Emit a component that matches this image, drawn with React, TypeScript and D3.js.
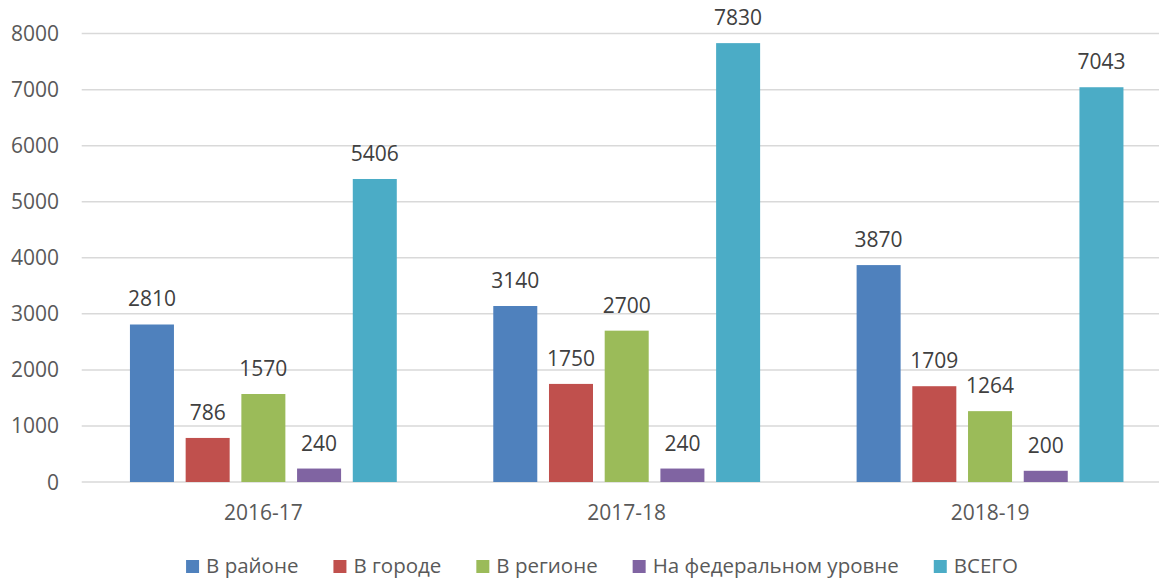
import React, { useEffect, useRef } from 'react';
import * as d3 from 'd3';

const years = ['2016-17', '2017-18', '2018-19'];
const seriesNames = ['В районе', 'В городе', 'В регионе', 'На федеральном уровне', 'ВСЕГО'];
const seriesColors = ['#4F81BD', '#C0504D', '#9BBB59', '#8064A2', '#4BACC6'];
const rayon = [2810, 3140, 3870];
const gorod = [786, 1750, 1709];
const region = [1570, 2700, 1264];
const federal = [240, 240, 200];
const total = [5406, 7830, 7043];
const yTicks = [0, 1000, 2000, 3000, 4000, 5000, 6000, 7000, 8000];

const WIDTH = 1159;
const HEIGHT = 579;
const FONT = '"Open Sans", sans-serif';

const App: React.FC = () => {
    const svgRef = useRef<SVGSVGElement>(null);

    useEffect(() => {
        document.body.style.margin = '0';
        if (!svgRef.current) return;

        const svg = d3.select(svgRef.current);
        svg.selectAll('*').remove();

        const values = [rayon, gorod, region, federal, total];

        // plot area (right edge runs past the picture, like the source)
        const left = 81.7;
        const right = 1171.7;
        const y = d3.scaleLinear().domain([0, 8000]).range([482, 33.6]);

        const x0 = d3.scaleBand<string>()
            .domain(years)
            .range([left, right])
            .padding(0);

        const x1 = d3.scaleBand<number>()
            .domain(d3.range(seriesNames.length))
            .range([0, x0.bandwidth()])
            .paddingInner(0.21)
            .paddingOuter(0.866);

        // gridlines
        svg.append('g')
            .selectAll('line')
            .data(yTicks)
            .join('line')
            .attr('x1', left)
            .attr('x2', WIDTH)
            .attr('y1', d => y(d))
            .attr('y2', d => y(d))
            .attr('stroke', '#D9D9D9')
            .attr('stroke-width', 1.5);

        // y labels
        svg.append('g')
            .selectAll('text')
            .data(yTicks)
            .join('text')
            .attr('x', 59)
            .attr('y', d => y(d) + 7.5)
            .attr('text-anchor', 'end')
            .style('font-family', FONT)
            .style('font-size', '21px')
            .style('fill', '#595959')
            .text(d => d);

        // bars + labels
        years.forEach((yr, gi) => {
            const g = svg.append('g').attr('transform', `translate(${x0(yr)},0)`);
            values.forEach((vals, si) => {
                const v = vals[gi];
                const bx = x1(si) as number;
                g.append('rect')
                    .attr('x', bx)
                    .attr('y', y(v))
                    .attr('width', x1.bandwidth())
                    .attr('height', y(0) - y(v))
                    .attr('fill', seriesColors[si]);
                g.append('text')
                    .attr('x', bx + x1.bandwidth() / 2)
                    .attr('y', y(v) - 18)
                    .attr('text-anchor', 'middle')
                    .style('font-family', FONT)
                    .style('font-size', '21px')
                    .style('fill', '#404040')
                    .text(v);
            });
        });

        // category labels
        svg.append('g')
            .selectAll('text')
            .data(years)
            .join('text')
            .attr('x', d => (x0(d) as number) + x0.bandwidth() / 2)
            .attr('y', 520)
            .attr('text-anchor', 'middle')
            .style('font-family', FONT)
            .style('font-size', '21px')
            .style('fill', '#595959')
            .text(d => d);

        // legend
        const legend = svg.append('g');
        const items = legend.selectAll('g')
            .data(seriesNames)
            .join('g');
        items.append('rect')
            .attr('y', 560)
            .attr('width', 13)
            .attr('height', 13)
            .attr('fill', (d, i) => seriesColors[i]);
        items.append('text')
            .attr('x', 20)
            .attr('y', 573)
            .style('font-family', FONT)
            .style('font-size', '20.5px')
            .style('fill', '#595959')
            .text(d => d);

        let cx = 0;
        const gap = 35;
        items.each(function () {
            const t = d3.select(this).select('text').node() as SVGTextElement;
            const w = 20 + t.getComputedTextLength();
            d3.select(this).attr('transform', `translate(${cx},0)`);
            cx += w + gap;
        });
        const legendWidth = cx - gap;
        legend.attr('transform', `translate(${602 - legendWidth / 2},0)`);
    }, []);

    return (
        <svg ref={svgRef} width={WIDTH} height={HEIGHT} style={{ display: 'block', background: '#fff' }} />
    );
};

export default App;
